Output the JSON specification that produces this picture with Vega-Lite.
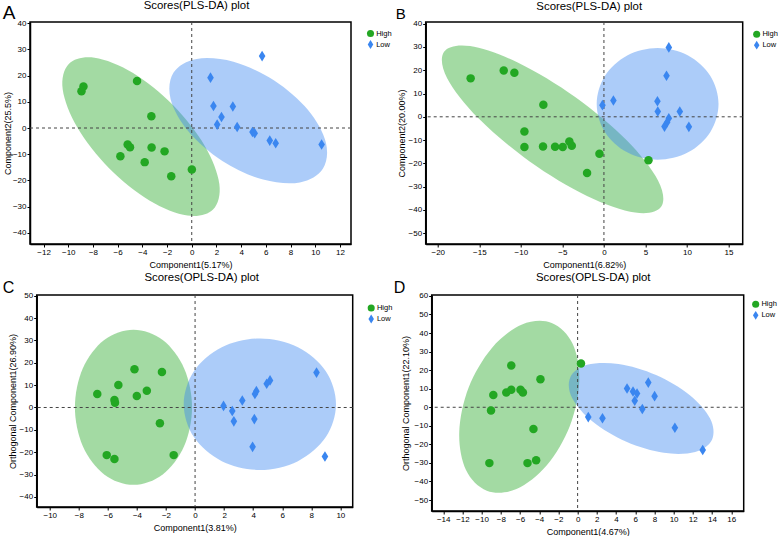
{
"$schema":"https://vega.github.io/schema/vega-lite/v6.json",
"padding":{"left":1,"top":-2,"right":0,"bottom":0},
"config":{
 "font":"Liberation Sans",
 "view":{"stroke":"black","strokeWidth":1.5},
 "axis":{"grid":false,"domainColor":"black","domainWidth":1.5,"tickColor":"black","tickWidth":1,"tickSize":3,"tickCount":100,"format":"d","labelFontSize":8,"labelColor":"black","labelPadding":1,"labelOverlap":false,"labelFlush":false,"titleFontSize":9,"titleFontWeight":"normal","titleColor":"black","titlePadding":2,"labelFont":"Liberation Sans","titleFont":"Liberation Sans"},
 "axisX":{"titlePadding":4},
 "axisY":{"titleBaseline":"middle"},
 "title":{"fontSize":11.4,"fontWeight":"normal","font":"Liberation Sans","color":"black","frame":"group","anchor":"middle"},
 "legend":{"labelFontSize":7.5,"labelFont":"Liberation Sans","labelColor":"black","symbolSize":50,"rowPadding":2,"padding":0,"labelOffset":1.2,"direction":"vertical"}
},
"datasets":{
 "A":[
  {"kind":"pt","group":"High","x":-8.93,"y":14.0},{"kind":"pt","group":"High","x":-8.77,"y":15.8},{"kind":"pt","group":"High","x":-4.43,"y":17.9},{"kind":"pt","group":"High","x":-3.27,"y":4.5},{"kind":"pt","group":"High","x":-5.19,"y":-6.3},{"kind":"pt","group":"High","x":-5.0,"y":-7.3},{"kind":"pt","group":"High","x":-5.78,"y":-10.8},{"kind":"pt","group":"High","x":-3.25,"y":-7.4},{"kind":"pt","group":"High","x":-2.2,"y":-8.9},{"kind":"pt","group":"High","x":-3.81,"y":-13.0},{"kind":"pt","group":"High","x":-1.66,"y":-18.4},{"kind":"pt","group":"High","x":0.01,"y":-15.8},
  {"kind":"pt","group":"Low","x":5.70,"y":27.4},{"kind":"pt","group":"Low","x":1.52,"y":19.2},{"kind":"pt","group":"Low","x":1.76,"y":8.4},{"kind":"pt","group":"Low","x":3.33,"y":8.2},{"kind":"pt","group":"Low","x":2.41,"y":4.2},{"kind":"pt","group":"Low","x":2.06,"y":1.3},{"kind":"pt","group":"Low","x":3.68,"y":0.4},{"kind":"pt","group":"Low","x":4.92,"y":-1.5},{"kind":"pt","group":"Low","x":5.1,"y":-2.0},{"kind":"pt","group":"Low","x":6.32,"y":-4.8},{"kind":"pt","group":"Low","x":6.8,"y":-5.8},{"kind":"pt","group":"Low","x":10.52,"y":-6.3},
  {"kind":"ell","group":"High","i":0,"x":1.724,"y":-31.07},{"kind":"ell","group":"High","i":1,"x":-0.35,"y":-33.37},{"kind":"ell","group":"High","i":2,"x":-3.431,"y":-27.61},{"kind":"ell","group":"High","i":3,"x":-6.694,"y":-15.34},{"kind":"ell","group":"High","i":4,"x":-9.263,"y":0.159},{"kind":"ell","group":"High","i":5,"x":-10.452,"y":14.73},{"kind":"ell","group":"High","i":6,"x":-9.94,"y":24.47},{"kind":"ell","group":"High","i":7,"x":-7.866,"y":26.77},{"kind":"ell","group":"High","i":8,"x":-4.785,"y":21.02},{"kind":"ell","group":"High","i":9,"x":-1.522,"y":8.74},{"kind":"ell","group":"High","i":10,"x":1.047,"y":-6.75},{"kind":"ell","group":"High","i":11,"x":2.236,"y":-21.33},
  {"kind":"ell","group":"Low","i":0,"x":10.62,"y":-15.54},{"kind":"ell","group":"Low","i":1,"x":8.76,"y":-20.75},{"kind":"ell","group":"Low","i":2,"x":5.78,"y":-19.66},{"kind":"ell","group":"Low","i":3,"x":2.48,"y":-12.55},{"kind":"ell","group":"Low","i":4,"x":-0.26,"y":-1.33},{"kind":"ell","group":"Low","i":5,"x":-1.71,"y":10.99},{"kind":"ell","group":"Low","i":6,"x":-1.47,"y":21.12},{"kind":"ell","group":"Low","i":7,"x":0.40,"y":26.33},{"kind":"ell","group":"Low","i":8,"x":3.38,"y":25.23},{"kind":"ell","group":"Low","i":9,"x":6.68,"y":18.13},{"kind":"ell","group":"Low","i":10,"x":9.42,"y":6.90},{"kind":"ell","group":"Low","i":11,"x":10.86,"y":-5.41}
 ],
 "B":[
  {"kind":"pt","group":"High","x":-16.04,"y":16.5},{"kind":"pt","group":"High","x":-12.06,"y":19.9},{"kind":"pt","group":"High","x":-10.78,"y":18.9},{"kind":"pt","group":"High","x":-7.29,"y":5.2},{"kind":"pt","group":"High","x":-9.57,"y":-6.3},{"kind":"pt","group":"High","x":-9.57,"y":-13.0},{"kind":"pt","group":"High","x":-7.33,"y":-12.7},{"kind":"pt","group":"High","x":-5.88,"y":-12.9},{"kind":"pt","group":"High","x":-4.96,"y":-13.0},{"kind":"pt","group":"High","x":-4.16,"y":-10.6},{"kind":"pt","group":"High","x":-3.87,"y":-12.4},{"kind":"pt","group":"High","x":-0.54,"y":-15.9},{"kind":"pt","group":"High","x":-2.03,"y":-24.1},{"kind":"pt","group":"High","x":5.36,"y":-18.6},
  {"kind":"pt","group":"Low","x":7.81,"y":29.8},{"kind":"pt","group":"Low","x":7.53,"y":17.6},{"kind":"pt","group":"Low","x":1.14,"y":7.0},{"kind":"pt","group":"Low","x":-0.18,"y":5.0},{"kind":"pt","group":"Low","x":6.44,"y":6.7},{"kind":"pt","group":"Low","x":6.48,"y":2.3},{"kind":"pt","group":"Low","x":9.13,"y":2.3},{"kind":"pt","group":"Low","x":7.81,"y":-0.6},{"kind":"pt","group":"Low","x":7.61,"y":-2.3},{"kind":"pt","group":"Low","x":7.29,"y":-4.2},{"kind":"pt","group":"Low","x":10.22,"y":-4.3},
  {"kind":"ell","group":"High","i":0,"x":6.88,"y":-38.66},{"kind":"ell","group":"High","i":1,"x":3.75,"y":-41.10},{"kind":"ell","group":"High","i":2,"x":-2.04,"y":-33.95},{"kind":"ell","group":"High","i":3,"x":-8.94,"y":-19.15},{"kind":"ell","group":"High","i":4,"x":-15.10,"y":-0.65},{"kind":"ell","group":"High","i":5,"x":-18.87,"y":16.59},{"kind":"ell","group":"High","i":6,"x":-19.24,"y":27.94},{"kind":"ell","group":"High","i":7,"x":-16.11,"y":30.38},{"kind":"ell","group":"High","i":8,"x":-10.32,"y":23.23},{"kind":"ell","group":"High","i":9,"x":-3.42,"y":8.43},{"kind":"ell","group":"High","i":10,"x":2.74,"y":-10.07},{"kind":"ell","group":"High","i":11,"x":6.51,"y":-27.31},
  {"kind":"ell","group":"Low","i":0,"x":13.79,"y":5.53},{"kind":"ell","group":"Low","i":1,"x":12.81,"y":17.53},{"kind":"ell","group":"Low","i":2,"x":10.13,"y":26.31},{"kind":"ell","group":"Low","i":3,"x":6.46,"y":29.53},{"kind":"ell","group":"Low","i":4,"x":2.80,"y":26.31},{"kind":"ell","group":"Low","i":5,"x":0.11,"y":17.53},{"kind":"ell","group":"Low","i":6,"x":-0.87,"y":5.53},{"kind":"ell","group":"Low","i":7,"x":0.11,"y":-6.47},{"kind":"ell","group":"Low","i":8,"x":2.80,"y":-15.25},{"kind":"ell","group":"Low","i":9,"x":6.46,"y":-18.47},{"kind":"ell","group":"Low","i":10,"x":10.13,"y":-15.25},{"kind":"ell","group":"Low","i":11,"x":12.81,"y":-6.47}
 ],
 "C":[
  {"kind":"pt","group":"High","x":-4.17,"y":17.1},{"kind":"pt","group":"High","x":-2.28,"y":15.9},{"kind":"pt","group":"High","x":-5.28,"y":10.1},{"kind":"pt","group":"High","x":-3.32,"y":7.5},{"kind":"pt","group":"High","x":-6.73,"y":6.0},{"kind":"pt","group":"High","x":-4.01,"y":5.1},{"kind":"pt","group":"High","x":-5.55,"y":3.3},{"kind":"pt","group":"High","x":-5.51,"y":2.1},{"kind":"pt","group":"High","x":-2.42,"y":-7.0},{"kind":"pt","group":"High","x":-6.08,"y":-21.3},{"kind":"pt","group":"High","x":-5.55,"y":-23.0},{"kind":"pt","group":"High","x":-1.47,"y":-21.3},
  {"kind":"pt","group":"Low","x":8.36,"y":15.6},{"kind":"pt","group":"Low","x":5.16,"y":12.1},{"kind":"pt","group":"Low","x":4.93,"y":10.6},{"kind":"pt","group":"Low","x":4.22,"y":7.3},{"kind":"pt","group":"Low","x":4.12,"y":6.0},{"kind":"pt","group":"Low","x":3.25,"y":3.1},{"kind":"pt","group":"Low","x":1.96,"y":0.7},{"kind":"pt","group":"Low","x":2.56,"y":-1.6},{"kind":"pt","group":"Low","x":2.67,"y":-6.2},{"kind":"pt","group":"Low","x":4.08,"y":-5.2},{"kind":"pt","group":"Low","x":3.96,"y":-17.6},{"kind":"pt","group":"Low","x":8.94,"y":-21.9},
  {"kind":"ell","group":"High","i":0,"x":-0.21,"y":0.1},{"kind":"ell","group":"High","i":1,"x":-0.75,"y":17.45},{"kind":"ell","group":"High","i":2,"x":-2.225,"y":30.15},{"kind":"ell","group":"High","i":3,"x":-4.24,"y":34.8},{"kind":"ell","group":"High","i":4,"x":-6.255,"y":30.15},{"kind":"ell","group":"High","i":5,"x":-7.73,"y":17.45},{"kind":"ell","group":"High","i":6,"x":-8.27,"y":0.1},{"kind":"ell","group":"High","i":7,"x":-7.73,"y":-17.25},{"kind":"ell","group":"High","i":8,"x":-6.255,"y":-29.95},{"kind":"ell","group":"High","i":9,"x":-4.24,"y":-34.6},{"kind":"ell","group":"High","i":10,"x":-2.225,"y":-29.95},{"kind":"ell","group":"High","i":11,"x":-0.75,"y":-17.25},
  {"kind":"ell","group":"Low","i":0,"x":9.70,"y":1.46},{"kind":"ell","group":"Low","i":1,"x":9.00,"y":16.16},{"kind":"ell","group":"Low","i":2,"x":7.08,"y":26.92},{"kind":"ell","group":"Low","i":3,"x":4.46,"y":30.86},{"kind":"ell","group":"Low","i":4,"x":1.84,"y":26.92},{"kind":"ell","group":"Low","i":5,"x":-0.08,"y":16.16},{"kind":"ell","group":"Low","i":6,"x":-0.78,"y":1.46},{"kind":"ell","group":"Low","i":7,"x":-0.08,"y":-13.24},{"kind":"ell","group":"Low","i":8,"x":1.84,"y":-24.0},{"kind":"ell","group":"Low","i":9,"x":4.46,"y":-27.94},{"kind":"ell","group":"Low","i":10,"x":7.08,"y":-24.0},{"kind":"ell","group":"Low","i":11,"x":9.00,"y":-13.24}
 ],
 "D":[
  {"kind":"pt","group":"High","x":0.35,"y":23.6},{"kind":"pt","group":"High","x":-6.91,"y":22.5},{"kind":"pt","group":"High","x":-3.87,"y":15.1},{"kind":"pt","group":"High","x":-8.78,"y":6.6},{"kind":"pt","group":"High","x":-7.43,"y":8.0},{"kind":"pt","group":"High","x":-6.91,"y":9.4},{"kind":"pt","group":"High","x":-5.95,"y":9.4},{"kind":"pt","group":"High","x":-5.70,"y":8.0},{"kind":"pt","group":"High","x":-9.02,"y":-1.8},{"kind":"pt","group":"High","x":-4.60,"y":-11.7},{"kind":"pt","group":"High","x":-9.19,"y":-30.1},{"kind":"pt","group":"High","x":-5.22,"y":-30.1},{"kind":"pt","group":"High","x":-4.32,"y":-28.5},
  {"kind":"pt","group":"Low","x":5.15,"y":10.1},{"kind":"pt","group":"Low","x":5.77,"y":8.5},{"kind":"pt","group":"Low","x":6.19,"y":7.4},{"kind":"pt","group":"Low","x":7.36,"y":13.3},{"kind":"pt","group":"Low","x":8.02,"y":6.0},{"kind":"pt","group":"Low","x":5.95,"y":3.5},{"kind":"pt","group":"Low","x":6.74,"y":-0.9},{"kind":"pt","group":"Low","x":1.11,"y":-5.3},{"kind":"pt","group":"Low","x":2.59,"y":-5.9},{"kind":"pt","group":"Low","x":10.13,"y":-11.0},{"kind":"pt","group":"Low","x":13.03,"y":-23.0},
  {"kind":"ell","group":"High","i":0,"x":-2.70,"y":45.47},{"kind":"ell","group":"High","i":1,"x":-0.52,"y":34.24},{"kind":"ell","group":"High","i":2,"x":0.17,"y":13.91},{"kind":"ell","group":"High","i":3,"x":-0.81,"y":-10.08},{"kind":"ell","group":"High","i":4,"x":-3.21,"y":-31.29},{"kind":"ell","group":"High","i":5,"x":-6.37,"y":-44.05},{"kind":"ell","group":"High","i":6,"x":-9.46,"y":-44.93},{"kind":"ell","group":"High","i":7,"x":-11.64,"y":-33.70},{"kind":"ell","group":"High","i":8,"x":-12.33,"y":-13.37},{"kind":"ell","group":"High","i":9,"x":-11.35,"y":10.62},{"kind":"ell","group":"High","i":10,"x":-8.95,"y":31.83},{"kind":"ell","group":"High","i":11,"x":-5.79,"y":44.59},
  {"kind":"ell","group":"Low","i":0,"x":14.01,"y":-17.32},{"kind":"ell","group":"Low","i":1,"x":12.25,"y":-24.09},{"kind":"ell","group":"Low","i":2,"x":8.98,"y":-24.57},{"kind":"ell","group":"Low","i":3,"x":5.08,"y":-18.63},{"kind":"ell","group":"Low","i":4,"x":1.59,"y":-7.87},{"kind":"ell","group":"Low","i":5,"x":-0.56,"y":4.84},{"kind":"ell","group":"Low","i":6,"x":-0.77,"y":16.08},{"kind":"ell","group":"Low","i":7,"x":0.99,"y":22.85},{"kind":"ell","group":"Low","i":8,"x":4.26,"y":23.33},{"kind":"ell","group":"Low","i":9,"x":8.17,"y":17.39},{"kind":"ell","group":"Low","i":10,"x":11.66,"y":6.63},{"kind":"ell","group":"Low","i":11,"x":13.80,"y":-6.08}
 ]
},
"columns":1,
"spacing":0,
"resolve":{"scale":{"color":"independent","shape":"independent"},"legend":{"color":"independent","shape":"independent"}},
"concat":[
 {"hconcat":[
  {"width":321,"height":222,
   "title":{"text":"Scores(PLS-DA) plot","offset":-7.3,"dx":6},
   "data":{"name":"A"},
   "layer":[
    {"transform":[{"filter":"datum.kind==='ell' && datum.group==='High'"}],
     "mark":{"type":"line","interpolate":"cardinal-closed","fill":"#23a723","fillOpacity":0.42,"strokeOpacity":0,"strokeWidth":0},
     "encoding":{
      "x":{"field":"x","type":"quantitative","title":"Component1(5.17%)","scale":{"domain":[-13.1,12.9],"nice":false,"zero":false},"axis":{"values":[-12,-10,-8,-6,-4,-2,0,2,4,6,8,10,12],"tickCount":100,"format":"d","labelOverlap":false}},
      "y":{"field":"y","type":"quantitative","title":"Component2(25.5%)","scale":{"domain":[-44.2,40.4],"nice":false,"zero":false},"axis":{"values":[-40,-30,-20,-10,0,10,20,30,40],"tickCount":100,"format":"d","labelOverlap":false,"titleX":-22.5}},
      "order":{"field":"i","type":"quantitative"}}},
    {"transform":[{"filter":"datum.kind==='ell' && datum.group==='Low'"}],
     "mark":{"type":"line","interpolate":"cardinal-closed","fill":"#3a86f0","fillOpacity":0.42,"strokeOpacity":0,"strokeWidth":0},
     "encoding":{
      "x":{"field":"x","type":"quantitative","title":"Component1(5.17%)"},
      "y":{"field":"y","type":"quantitative","title":"Component2(25.5%)"},
      "order":{"field":"i","type":"quantitative"}}},
    {"data":{"values":[{}]},"mark":{"type":"rule","color":"#444444","strokeDash":[3,3],"strokeWidth":1},"encoding":{"x":{"datum":0,"type":"quantitative"}}},
    {"data":{"values":[{}]},"mark":{"type":"rule","color":"#444444","strokeDash":[3,3],"strokeWidth":1},"encoding":{"y":{"datum":0,"type":"quantitative"}}},
    {"transform":[{"filter":"datum.kind==='pt'"}],
     "mark":{"type":"point","filled":true,"opacity":1,"size":72,"strokeWidth":0},
     "encoding":{
      "x":{"field":"x","type":"quantitative","title":"Component1(5.17%)"},
      "y":{"field":"y","type":"quantitative","title":"Component2(25.5%)"},
      "color":{"field":"group","type":"nominal","scale":{"domain":["High","Low"],"range":["#23a723","#3a86f0"]},"legend":{"title":null,"orient":"none","legendX":336,"legendY":7}},
      "shape":{"field":"group","type":"nominal","scale":{"domain":["High","Low"],"range":["circle","M0,-1.25L0.78,0L0,1.25L-0.78,0Z"]},"legend":{"title":null,"orient":"none","legendX":336,"legendY":7}}}},
    {"data":{"values":[{}]},"mark":{"type":"text","text":"A","fontSize":19,"align":"left","baseline":"alphabetic","color":"black"},"encoding":{"x":{"datum":-15.31,"type":"quantitative"},"y":{"datum":41.66,"type":"quantitative"}}}
   ]},
  {"width":317,"height":222,
   "title":{"text":"Scores(PLS-DA) plot","offset":-5.3,"dx":5},
   "data":{"name":"B"},
   "layer":[
    {"transform":[{"filter":"datum.kind==='ell' && datum.group==='High'"}],
     "mark":{"type":"line","interpolate":"cardinal-closed","fill":"#23a723","fillOpacity":0.42,"strokeOpacity":0,"strokeWidth":0},
     "encoding":{
      "x":{"field":"x","type":"quantitative","title":"Component1(6.82%)","scale":{"domain":[-21.45,16.7],"nice":false,"zero":false},"axis":{"values":[-20,-15,-10,-5,0,5,10,15],"tickCount":100,"format":"d","labelOverlap":false}},
      "y":{"field":"y","type":"quantitative","title":"Component2(20.00%)","scale":{"domain":[-54.6,40.7],"nice":false,"zero":false},"axis":{"values":[-50,-40,-30,-20,-10,0,10,20,30,40],"tickCount":100,"format":"d","labelOverlap":false,"titleX":-24.5}},
      "order":{"field":"i","type":"quantitative"}}},
    {"transform":[{"filter":"datum.kind==='ell' && datum.group==='Low'"}],
     "mark":{"type":"line","interpolate":"cardinal-closed","fill":"#3a86f0","fillOpacity":0.42,"strokeOpacity":0,"strokeWidth":0},
     "encoding":{
      "x":{"field":"x","type":"quantitative","title":"Component1(6.82%)"},
      "y":{"field":"y","type":"quantitative","title":"Component2(20.00%)"},
      "order":{"field":"i","type":"quantitative"}}},
    {"data":{"values":[{}]},"mark":{"type":"rule","color":"#444444","strokeDash":[3,3],"strokeWidth":1},"encoding":{"x":{"datum":0,"type":"quantitative"}}},
    {"data":{"values":[{}]},"mark":{"type":"rule","color":"#444444","strokeDash":[3,3],"strokeWidth":1},"encoding":{"y":{"datum":0,"type":"quantitative"}}},
    {"transform":[{"filter":"datum.kind==='pt'"}],
     "mark":{"type":"point","filled":true,"opacity":1,"size":72,"strokeWidth":0},
     "encoding":{
      "x":{"field":"x","type":"quantitative","title":"Component1(6.82%)"},
      "y":{"field":"y","type":"quantitative","title":"Component2(20.00%)"},
      "color":{"field":"group","type":"nominal","scale":{"domain":["High","Low"],"range":["#23a723","#3a86f0"]},"legend":{"title":null,"orient":"none","legendX":326.5,"legendY":7.7}},
      "shape":{"field":"group","type":"nominal","scale":{"domain":["High","Low"],"range":["circle","M0,-1.25L0.78,0L0,1.25L-0.78,0Z"]},"legend":{"title":null,"orient":"none","legendX":326.5,"legendY":7.7}}}},
    {"data":{"values":[{}]},"mark":{"type":"text","text":"B","fontSize":15,"align":"left","baseline":"alphabetic","color":"black"},"encoding":{"x":{"datum":-25.06,"type":"quantitative"},"y":{"datum":42.12,"type":"quantitative"}}}
   ]}
 ],"spacing":74.7,"bounds":"flush",
 "resolve":{"scale":{"color":"independent","shape":"independent"},"legend":{"color":"independent","shape":"independent"}}},
 {"hconcat":[
  {"width":1,"height":1,"data":{"values":[]},"mark":"point","view":{"stroke":null}},
  {"hconcat":[
   {"width":316,"height":212,
    "title":{"text":"Scores(OPLS-DA) plot","offset":-3,"dx":7},
    "data":{"name":"C"},
    "layer":[
     {"transform":[{"filter":"datum.kind==='ell' && datum.group==='High'"}],
      "mark":{"type":"line","interpolate":"cardinal-closed","fill":"#23a723","fillOpacity":0.42,"strokeOpacity":0,"strokeWidth":0},
      "encoding":{
       "x":{"field":"x","type":"quantitative","title":"Component1(3.81%)","scale":{"domain":[-10.9,10.85],"nice":false,"zero":false},"axis":{"values":[-10,-8,-6,-4,-2,0,2,4,6,8,10],"tickCount":100,"format":"d","labelOverlap":false}},
       "y":{"field":"y","type":"quantitative","title":"Orthogonal Component1(26.90%)","scale":{"domain":[-44.5,50.3],"nice":false,"zero":false},"axis":{"values":[-40,-30,-20,-10,0,10,20,30,40,50],"tickCount":100,"format":"d","labelOverlap":false,"titleX":-24.5}},
       "order":{"field":"i","type":"quantitative"}}},
     {"transform":[{"filter":"datum.kind==='ell' && datum.group==='Low'"}],
      "mark":{"type":"line","interpolate":"cardinal-closed","fill":"#3a86f0","fillOpacity":0.42,"strokeOpacity":0,"strokeWidth":0},
      "encoding":{
       "x":{"field":"x","type":"quantitative","title":"Component1(3.81%)"},
       "y":{"field":"y","type":"quantitative","title":"Orthogonal Component1(26.90%)"},
       "order":{"field":"i","type":"quantitative"}}},
     {"data":{"values":[{}]},"mark":{"type":"rule","color":"#444444","strokeDash":[3,3],"strokeWidth":1},"encoding":{"x":{"datum":0,"type":"quantitative"}}},
     {"data":{"values":[{}]},"mark":{"type":"rule","color":"#444444","strokeDash":[3,3],"strokeWidth":1},"encoding":{"y":{"datum":0,"type":"quantitative"}}},
     {"transform":[{"filter":"datum.kind==='pt'"}],
      "mark":{"type":"point","filled":true,"opacity":1,"size":72,"strokeWidth":0},
      "encoding":{
       "x":{"field":"x","type":"quantitative","title":"Component1(3.81%)"},
       "y":{"field":"y","type":"quantitative","title":"Orthogonal Component1(26.90%)"},
       "color":{"field":"group","type":"nominal","scale":{"domain":["High","Low"],"range":["#23a723","#3a86f0"]},"legend":{"title":null,"orient":"none","legendX":330,"legendY":8.5}},
       "shape":{"field":"group","type":"nominal","scale":{"domain":["High","Low"],"range":["circle","M0,-1.25L0.78,0L0,1.25L-0.78,0Z"]},"legend":{"title":null,"orient":"none","legendX":330,"legendY":8.5}}}},
     {"data":{"values":[{}]},"mark":{"type":"text","text":"C","fontSize":16,"align":"left","baseline":"alphabetic","color":"black"},"encoding":{"x":{"datum":-13.24,"type":"quantitative"},"y":{"datum":51.11,"type":"quantitative"}}}
    ]},
   {"width":312,"height":216,
    "title":{"text":"Scores(OPLS-DA) plot","offset":-2.7,"dx":5.5},
    "data":{"name":"D"},
    "layer":[
     {"transform":[{"filter":"datum.kind==='ell' && datum.group==='High'"}],
      "mark":{"type":"line","interpolate":"cardinal-closed","fill":"#23a723","fillOpacity":0.42,"strokeOpacity":0,"strokeWidth":0},
      "encoding":{
       "x":{"field":"x","type":"quantitative","title":"Component1(4.67%)","scale":{"domain":[-15.2,17.3],"nice":false,"zero":false},"axis":{"values":[-14,-12,-10,-8,-6,-4,-2,0,2,4,6,8,10,12,14,16],"tickCount":100,"format":"d","labelOverlap":false}},
       "y":{"field":"y","type":"quantitative","title":"Orthogonal Component1(22.10%)","scale":{"domain":[-55.9,60.5],"nice":false,"zero":false},"axis":{"values":[-50,-40,-30,-20,-10,0,10,20,30,40,50,60],"tickCount":100,"format":"d","labelOverlap":false,"titleX":-26.5}},
       "order":{"field":"i","type":"quantitative"}}},
     {"transform":[{"filter":"datum.kind==='ell' && datum.group==='Low'"}],
      "mark":{"type":"line","interpolate":"cardinal-closed","fill":"#3a86f0","fillOpacity":0.42,"strokeOpacity":0,"strokeWidth":0},
      "encoding":{
       "x":{"field":"x","type":"quantitative","title":"Component1(4.67%)"},
       "y":{"field":"y","type":"quantitative","title":"Orthogonal Component1(22.10%)"},
       "order":{"field":"i","type":"quantitative"}}},
     {"data":{"values":[{}]},"mark":{"type":"rule","color":"#444444","strokeDash":[3,3],"strokeWidth":1},"encoding":{"x":{"datum":0,"type":"quantitative"}}},
     {"data":{"values":[{}]},"mark":{"type":"rule","color":"#444444","strokeDash":[3,3],"strokeWidth":1},"encoding":{"y":{"datum":0,"type":"quantitative"}}},
     {"transform":[{"filter":"datum.kind==='pt'"}],
      "mark":{"type":"point","filled":true,"opacity":1,"size":72,"strokeWidth":0},
      "encoding":{
       "x":{"field":"x","type":"quantitative","title":"Component1(4.67%)"},
       "y":{"field":"y","type":"quantitative","title":"Orthogonal Component1(22.10%)"},
       "color":{"field":"group","type":"nominal","scale":{"domain":["High","Low"],"range":["#23a723","#3a86f0"]},"legend":{"title":null,"orient":"none","legendX":319.5,"legendY":4.8}},
       "shape":{"field":"group","type":"nominal","scale":{"domain":["High","Low"],"range":["circle","M0,-1.25L0.78,0L0,1.25L-0.78,0Z"]},"legend":{"title":null,"orient":"none","legendX":319.5,"legendY":4.8}}}},
     {"data":{"values":[{}]},"mark":{"type":"text","text":"D","fontSize":16,"align":"left","baseline":"alphabetic","color":"black"},"encoding":{"x":{"datum":-19.16,"type":"quantitative"},"y":{"datum":61.47,"type":"quantitative"}}}
    ]}
  ],"spacing":79,"bounds":"flush",
  "resolve":{"scale":{"color":"independent","shape":"independent"},"legend":{"color":"independent","shape":"independent"}}}
 ],"spacing":5.7,"bounds":"flush",
 "resolve":{"scale":{"color":"independent","shape":"independent"},"legend":{"color":"independent","shape":"independent"}}}
]
}
